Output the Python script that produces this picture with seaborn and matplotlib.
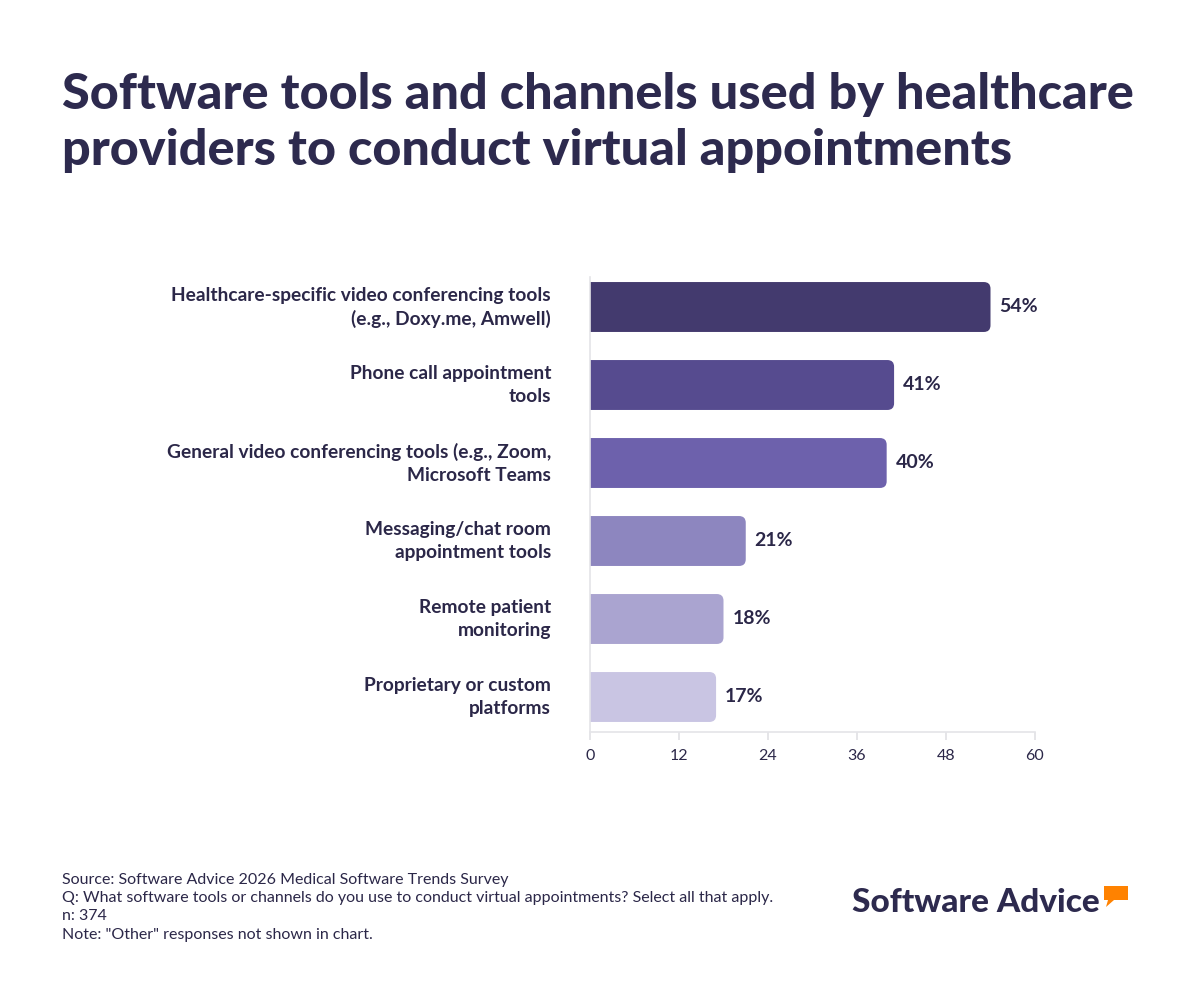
import matplotlib
matplotlib.use("Agg")
import matplotlib.pyplot as plt
import matplotlib.transforms as mtransforms
import seaborn as sns
import pandas as pd
from matplotlib.patches import FancyBboxPatch, Polygon

categories = [
    "Healthcare-specific video conferencing tools\n(e.g., Doxy.me, Amwell)",
    "Phone call appointment\ntools",
    "General video conferencing tools (e.g., Zoom,\nMicrosoft Teams",
    "Messaging/chat room\nappointment tools",
    "Remote patient\nmonitoring",
    "Proprietary or custom\nplatforms",
]
values = [54, 41, 40, 21, 18, 17]
bar_colors = ["#433A6E", "#564B8F", "#6D61AC", "#8D86BF", "#AAA4D0", "#C9C5E3"]
x_ticks = [0, 12, 24, 36, 48, 60]

title = "Software tools and channels used by healthcare\nproviders to conduct virtual appointments"
footer = ("Source: Software Advice 2026 Medical Software Trends Survey\n"
          "Q: What software tools or channels do you use to conduct virtual appointments? Select all that apply.\n"
          "n: 374\n"
          "Note: \"Other\" responses not shown in chart.")

TEXT = "#2B2748"
sns.set_theme(style="white")
plt.rcParams["font.family"] = ["Lato", "DejaVu Sans"]

df = pd.DataFrame({"category": categories, "value": values})

fig = plt.figure(figsize=(12, 10), dpi=100)
ax = fig.add_axes([590/1200, 1-732/1000, 445/1200, 455/1000])

sns.barplot(data=df, x="value", y="category", hue="category", palette=bar_colors,
            legend=False, ax=ax, width=0.64, orient="h", saturation=1)

# replace bars with right-rounded versions
for p in list(ax.patches):
    x0, y0 = p.get_x(), p.get_y()
    w, h = p.get_width(), p.get_height()
    fc = p.get_facecolor()
    p.remove()
    fb = FancyBboxPatch((x0 - 2, y0), w + 2, h,
                        boxstyle="round,pad=0,rounding_size=0.9",
                        mutation_aspect=0.095, facecolor=fc, edgecolor="none",
                        clip_on=True)
    ax.add_patch(fb)
    ax.text(x0 + w + 1.2, y0 + h / 2, f"{int(w)}%", va="center", ha="left",
            fontsize=14, fontweight="bold", color=TEXT)

ax.set_xlim(0, 60)
ax.set_ylim(5 + 35/78, -30/78)
ax.set_xticks(x_ticks)
ax.set_xticklabels([str(t) for t in x_ticks])
ax.set_xlabel("")
ax.set_ylabel("")

for s in ["top", "right"]:
    ax.spines[s].set_visible(False)
for s in ["left", "bottom"]:
    ax.spines[s].set_color("#E4E4E8")
    ax.spines[s].set_linewidth(1.2)

ax.tick_params(axis="x", colors="#E0E0E4", length=6, width=1.2, labelcolor=TEXT,
               labelsize=11.5, pad=6, bottom=True)
ax.tick_params(axis="y", length=0, pad=28, labelcolor=TEXT)
shift = mtransforms.ScaledTranslation(0, 4/100, fig.dpi_scale_trans)
for lbl in ax.get_yticklabels():
    lbl.set_fontweight("bold")
    lbl.set_fontsize(13.8)
    lbl.set_ha("right")
    lbl.set_va("center_baseline")
    lbl.set_linespacing(1.4)
    lbl.set_transform(lbl.get_transform() + shift)

fig.text(62/1200, 1-72/1000, title, ha="left", va="top", fontsize=36.3,
         fontweight="black", color="#2D2A4E", linespacing=1.3)

fig.text(62/1200, 1-873/1000, footer, ha="left", va="top", fontsize=11.5,
         color=TEXT, linespacing=1.38)

# logo
fig.text(852/1200, 1-903/1000, "Software Advice", ha="left", va="center",
         fontsize=24, fontweight="black", color="#2D2A4E")
bubble = Polygon([(1104/1200, 1-886/1000), (1128/1200, 1-886/1000),
                  (1128/1200, 1-900/1000), (1114/1200, 1-900/1000),
                  (1106/1200, 1-907/1000), (1108/1200, 1-900/1000),
                  (1104/1200, 1-900/1000)],
                 closed=True, transform=fig.transFigure, facecolor="#FF8200",
                 edgecolor="none")
fig.patches.append(bubble)

fig.savefig("out.png", dpi=100, facecolor="white")
